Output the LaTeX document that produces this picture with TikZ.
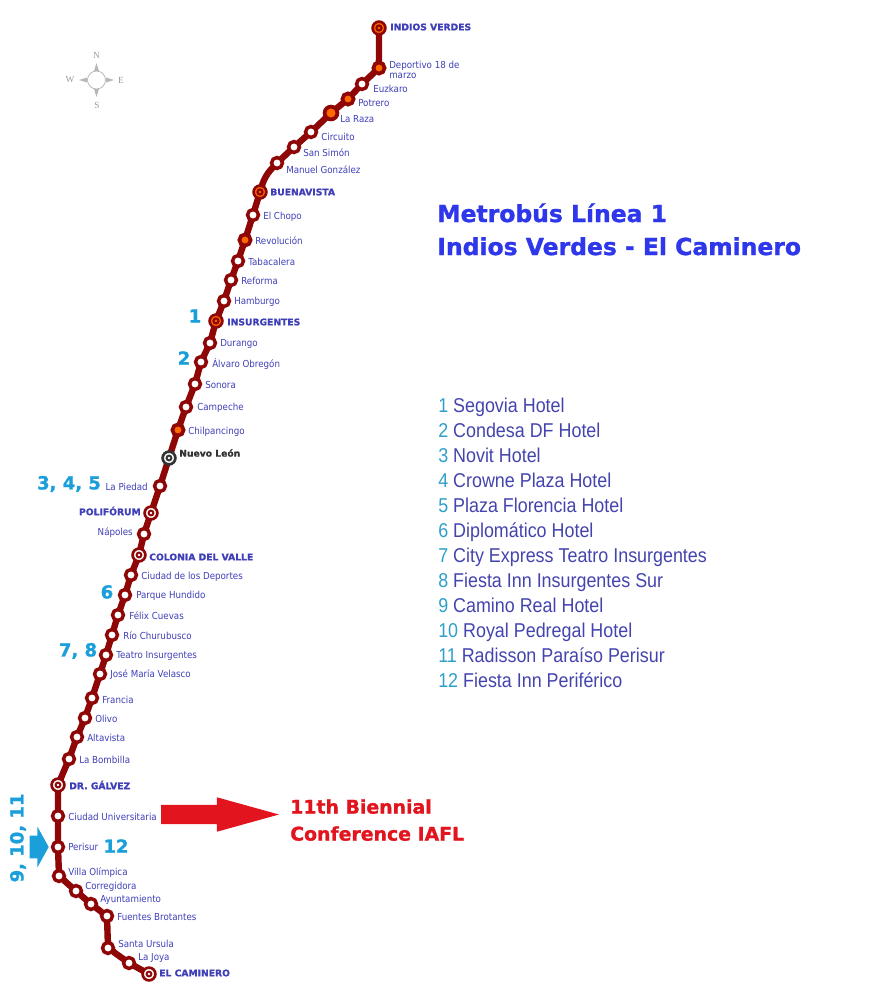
\documentclass[tikz,border=0pt]{standalone}
\usepackage{fontspec}
\usepackage{xcolor}
\usetikzlibrary{backgrounds,shapes.arrows}
\setmainfont{DejaVu Sans}
\newfontfamily\stopfont[FakeStretch=0.9]{DejaVu Sans}
\newfontfamily\heavyfont[BoldFeatures={FakeBold=1.2}]{DejaVu Sans}
\newfontfamily\hotelfont[FakeStretch=0.895]{Liberation Sans}
\newfontfamily\compassfont{Liberation Serif}
\definecolor{metro}{HTML}{8E0606}
\definecolor{stoptxt}{HTML}{3F3FB8}
\definecolor{titleblue}{HTML}{2F37EA}
\definecolor{hotelblue}{HTML}{4444AE}
\definecolor{hotelnum}{HTML}{2E9FC8}
\definecolor{numblue}{HTML}{1B9FDB}
\definecolor{iaflred}{HTML}{E2151F}
\definecolor{hubcol}{HTML}{FF6A00}
\definecolor{nesw}{HTML}{9A9A9A}
\newcommand{\hn}[1]{\textcolor{hotelnum}{#1}}

\begin{document}
\begin{tikzpicture}[
  x=0.75pt,y=-0.75pt,
  stopw/.style={circle,draw=metro,fill=white,line width=2.6pt,inner sep=0pt,minimum size=8.2pt},
  stopo/.style={circle,draw=metro,fill=hubcol,line width=2.8pt,inner sep=0pt,minimum size=8.4pt},
  term/.style={circle,draw=#1,line width=2pt,inner sep=0pt,minimum size=9.6pt},
  termo/.style={term=metro,fill=hubcol,path picture={
      \fill[metro] (path picture bounding box.center) circle (2.8pt);
      \fill[hubcol] (path picture bounding box.center) circle (1.1pt);}},
  termw/.style={term=metro,fill=white,path picture={
      \fill[metro] (path picture bounding box.center) circle (2.6pt);
      \fill[white] (path picture bounding box.center) circle (1pt);}},
  termk/.style={term=black!80,fill=white,path picture={
      \fill[black!80] (path picture bounding box.center) circle (2.6pt);
      \fill[white] (path picture bounding box.center) circle (1pt);}},
  lbl/.style={anchor=west,yshift=-0.6pt,inner sep=0pt,text=stoptxt,font=\stopfont\fontsize{7.25}{7.5}\selectfont},
  hublbl/.style={anchor=west,inner sep=0pt,text=stoptxt,font=\heavyfont\fontsize{6.9}{8}\selectfont\bfseries},
  num/.style={inner sep=0pt,text=numblue,font=\heavyfont\fontsize{13.5}{15}\selectfont\bfseries},
  metroline/.style={metro,line width=4.8pt,line join=round,rounded corners=6pt},
  nesw/.style={inner sep=0pt,text=nesw,font=\compassfont\fontsize{7}{8}\selectfont},
  ray/.style={fill=nesw!70,draw=none}
]
  \useasboundingbox (0,0) rectangle (870,1000);

  % stations, north to south
  \node[termo] (indios) at (379,28) {};
  \node[stopo] (deportivo) at (379,68) {};
  \node[stopw] (euzkaro) at (362,84) {};
  \node[stopo] (potrero) at (348,99) {};
  \node[stopo,minimum size=9.6pt] (laraza) at (331,113) {};
  \node[stopw] (circuito) at (311,132) {};
  \node[stopw] (sansimon) at (294,147) {};
  \node[stopw] (manuel) at (277,163) {};
  \node[termo] (buenavista) at (260,192) {};
  \node[stopw] (chopo) at (253,215) {};
  \node[stopo] (revolucion) at (245,240) {};
  \node[stopw] (tabacalera) at (238,261) {};
  \node[stopw] (reforma) at (231,280) {};
  \node[stopw] (hamburgo) at (224,301) {};
  \node[termo] (insurgentes) at (216,321) {};
  \node[stopw] (durango) at (210,343) {};
  \node[stopw] (alvaro) at (201,362) {};
  \node[stopw] (sonora) at (195,384) {};
  \node[stopw] (campeche) at (186,407) {};
  \node[stopo] (chilpa) at (178,430) {};
  \node[termk] (nuevoleon) at (169,458) {};
  \node[stopw] (piedad) at (160,486) {};
  \node[termw] (poliforum) at (151,513) {};
  \node[stopw] (napoles) at (144,534) {};
  \node[termw] (colonia) at (139,555) {};
  \node[stopw] (deportes) at (131,575) {};
  \node[stopw] (hundido) at (125,595) {};
  \node[stopw] (felix) at (118,615) {};
  \node[stopw] (churubusco) at (112,635) {};
  \node[stopw] (teatro) at (106,655) {};
  \node[stopw] (velasco) at (100,674) {};
  \node[stopw] (francia) at (92,698) {};
  \node[stopw] (olivo) at (85,718) {};
  \node[stopw] (altavista) at (77,737) {};
  \node[stopw] (bombilla) at (69,759) {};
  \node[termw] (galvez) at (58,785) {};
  \node[stopw] (cu) at (58,816) {};
  \node[stopw] (perisur) at (58,847) {};
  \node[stopw] (olimpica) at (59,876) {};
  \node[stopw] (corregidora) at (76,891) {};
  \node[stopw] (ayuntamiento) at (91,904) {};
  \node[stopw] (fuentes) at (107,916) {};
  \node[stopw] (ursula) at (108,948) {};
  \node[stopw] (joya) at (129,963) {};
  \node[termw] (caminero) at (149,974) {};
  \coordinate (bendm) at (265,176);

  \begin{scope}[on background layer]
    \draw[metroline] (indios.center) -- (deportivo.center) -- (euzkaro.center) -- (potrero.center) -- (laraza.center)
      -- (circuito.center) -- (sansimon.center) -- (manuel.center) -- (bendm) -- (buenavista.center)
      -- (chopo.center) -- (revolucion.center) -- (tabacalera.center) -- (reforma.center)
      -- (hamburgo.center) -- (insurgentes.center) -- (durango.center) -- (alvaro.center)
      -- (sonora.center) -- (campeche.center) -- (chilpa.center) -- (nuevoleon.center)
      -- (piedad.center) -- (poliforum.center) -- (napoles.center) -- (colonia.center)
      -- (deportes.center) -- (hundido.center) -- (felix.center) -- (churubusco.center)
      -- (teatro.center) -- (velasco.center) -- (francia.center) -- (olivo.center)
      -- (altavista.center) -- (bombilla.center) -- (galvez.center) -- (cu.center)
      -- (perisur.center) -- (olimpica.center) -- (corregidora.center) -- (ayuntamiento.center)
      -- (fuentes.center) -- (ursula.center) -- (joya.center) -- (caminero.center);
  \end{scope}

  % station names
  \node[hublbl] (indiosl) at (390,27) {INDIOS VERDES};
  \node[lbl,align=left] (deportivol) at (389,69) {Deportivo 18 de\\marzo};
  \node[lbl] (euzkarol) at (373,88) {Euzkaro};
  \node[lbl] (potrerol) at (358,102) {Potrero};
  \node[lbl] (larazal) at (340,118) {La Raza};
  \node[lbl] (circuitol) at (321,136) {Circuito};
  \node[lbl] (sansimonl) at (303,152) {San Simón};
  \node[lbl] (manuell) at (286,169) {Manuel González};
  \node[hublbl] (buenavistal) at (270,192) {BUENAVISTA};
  \node[lbl] (chopol) at (263,216) {El Chopo};
  \node[lbl] (revolucionl) at (255,240) {Revolución};
  \node[lbl] (tabacaleral) at (248,261) {Tabacalera};
  \node[lbl] (reformal) at (241,280) {Reforma};
  \node[lbl] (hamburgol) at (234,301) {Hamburgo};
  \node[hublbl] (insurgentesl) at (227,322) {INSURGENTES};
  \node[lbl] (durangol) at (220,343) {Durango};
  \node[lbl] (alvarol) at (212,363) {Álvaro Obregón};
  \node[lbl] (sonoral) at (205,384) {Sonora};
  \node[lbl] (campechel) at (197,407) {Campeche};
  \node[lbl] (chilpal) at (188,431) {Chilpancingo};
  \node[hublbl,text=black!80] (nuevoleonl) at (179,453) {Nuevo León};
  \node[lbl,anchor=east] (piedadl) at (148,486) {La Piedad};
  \node[hublbl,anchor=east] (poliforuml) at (141,511) {POLIFÓRUM};
  \node[lbl,anchor=east] (napolesl) at (133,532) {Nápoles};
  \node[hublbl] (colonial) at (149,557) {COLONIA DEL VALLE};
  \node[lbl] (deportesl) at (141,576) {Ciudad de los Deportes};
  \node[lbl] (hundidol) at (136,595) {Parque Hundido};
  \node[lbl] (felixl) at (129,615) {Félix Cuevas};
  \node[lbl] (churubuscol) at (123,635) {Río Churubusco};
  \node[lbl] (teatrol) at (116,655) {Teatro Insurgentes};
  \node[lbl] (velascol) at (110,674) {José María Velasco};
  \node[lbl] (francial) at (102,699) {Francia};
  \node[lbl] (olivol) at (95,718) {Olivo};
  \node[lbl] (altavistal) at (87,737) {Altavista};
  \node[lbl] (bombillal) at (79,759) {La Bombilla};
  \node[hublbl] (galvezl) at (69,785) {DR. GÁLVEZ};
  \node[lbl] (cul) at (68,816) {Ciudad Universitaria};
  \node[lbl] (perisurl) at (68,846) {Perisur};
  \node[lbl] (olimpical) at (68,872) {Villa Olímpica};
  \node[lbl] (corregidoral) at (85,886) {Corregidora};
  \node[lbl] (ayuntamientol) at (100,899) {Ayuntamiento};
  \node[lbl] (fuentesl) at (117,916) {Fuentes Brotantes};
  \node[lbl] (ursulal) at (118,943) {Santa Ursula};
  \node[lbl] (joyal) at (138,957) {La Joya};
  \node[hublbl] (caminerol) at (159,973) {EL CAMINERO};

  % hotel numbers along the line
  \node[num] (n1) at (195,316) {1};
  \node[num] (n2) at (184,358) {2};
  \node[num] (n345) at (69,484) {3, 4, 5};
  \node[num] (n6) at (107,592) {6};
  \node[num] (n78) at (78,651) {7, 8};
  \node[num] (n12) at (116,846) {12};
  \node[num,rotate=90] (n91011) at (18,838) {9, 10, 11};

  % big arrows
  \node[single arrow,anchor=tip,fill=iaflred,inner xsep=0pt,inner ysep=7.1pt,minimum width=25.5pt,minimum height=88.5pt,
        single arrow head extend=5.6pt,single arrow tip angle=31,single arrow head indent=0pt] (bigred) at (280,814.5) {};
  \node[single arrow,anchor=tip,fill=numblue,inner xsep=0pt,inner ysep=8.25pt,minimum width=30pt,minimum height=14.25pt,
        single arrow head extend=6.8pt,single arrow tip angle=122,single arrow head indent=0pt] (bigblue) at (49,847) {};

  % text blocks
  \node[anchor=north west,inner sep=0pt,align=left,text=titleblue,
        font=\heavyfont\fontsize{17.6}{24.75}\selectfont\bfseries] (title) at (437,203)
    {Metrobús Línea 1\\Indios Verdes - El Caminero};
  \node[anchor=north west,inner sep=0pt,align=left,text=iaflred,
        font=\heavyfont\fontsize{14.15}{20.25}\selectfont\bfseries] (iafl) at (290,799)
    {11th Biennial\\Conference IAFL};
  \node[anchor=north west,inner sep=0pt,align=left,text=hotelblue,
        font=\hotelfont\fontsize{15}{18.75}\selectfont] (hotels) at (438,398)
    {\hn{1} Segovia Hotel\\
     \hn{2} Condesa DF Hotel\\
     \hn{3} Novit Hotel\\
     \hn{4} Crowne Plaza Hotel\\
     \hn{5} Plaza Florencia Hotel\\
     \hn{6} Diplomático Hotel\\
     \hn{7} City Express Teatro Insurgentes\\
     \hn{8} Fiesta Inn Insurgentes Sur\\
     \hn{9} Camino Real Hotel\\
     \hn{10} Royal Pedregal Hotel\\
     \hn{11} Radisson Paraíso Perisur\\
     \hn{12} Fiesta Inn Periférico};

  % compass
  \node[circle,draw=nesw!80,line width=0.5pt,inner sep=0pt,minimum size=13.5pt] (compass) at (96.5,80) {};
  \fill[ray] (96.5,63) -- (99,71) -- (94,71) -- cycle;
  \fill[ray] (96.5,97) -- (99,89) -- (94,89) -- cycle;
  \fill[ray] (79,80) -- (87,77.5) -- (87,82.5) -- cycle;
  \fill[ray] (114,80) -- (106,77.5) -- (106,82.5) -- cycle;
  \node[nesw] (north) at (96.5,55) {N};
  \node[nesw] (south) at (97,105) {S};
  \node[nesw] (west) at (70,80) {W};
  \node[nesw] (east) at (121,80) {E};
\end{tikzpicture}
\end{document}
